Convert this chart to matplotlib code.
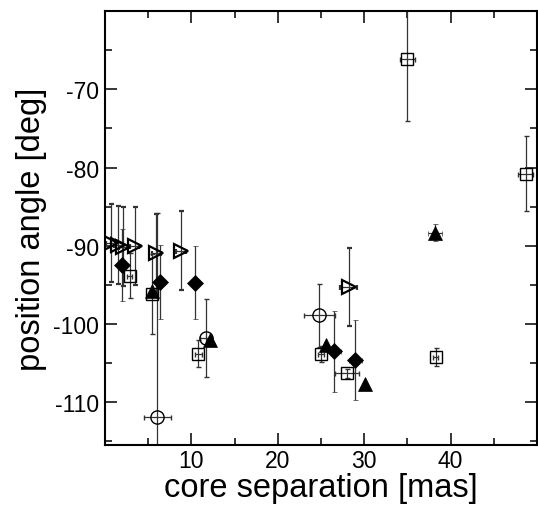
import matplotlib.pyplot as plt
from matplotlib.ticker import MultipleLocator

plt.rcParams['font.family'] = ['Liberation Sans', 'DejaVu Sans']
plt.rcParams['axes.unicode_minus'] = False

# open right-pointing triangles
tri_r_x = [0.66, 1.54, 2.1, 3.46, 5.97, 8.78, 28.2]
tri_r_y = [-89.6, -89.9, -90.1, -90.0, -90.9, -90.6, -95.3]
tri_r_xerr = [0.5, 0.5, 0.5, 0.5, 0.5, 0.6, 1.0]
tri_r_yerr = [5.0, 5.0, 5.0, 5.0, 5.0, 5.0, 5.0]

# filled diamonds
dia_x = [2.0, 6.35, 10.4, 26.5, 29.0]
dia_y = [-92.4, -94.6, -94.7, -103.5, -104.6]
dia_xerr = [0.4, 0.4, 0.4, 0.8, 0.8]
dia_yerr = [4.6, 4.7, 4.7, 5.2, 5.1]

# filled up triangles
tri_u_x = [5.4, 12.2, 25.6, 30.1, 38.2]
tri_u_y = [-95.8, -102.0, -102.7, -107.7, -88.3]
tri_u_xerr = [0, 0, 0, 0, 0.8]
tri_u_yerr = [0, 0, 0, 0, 1.1]

# open squares
sq_x = [2.85, 5.5, 10.8, 25.0, 28.0, 38.3, 35.0, 48.7]
sq_y = [-93.8, -96.2, -103.8, -103.8, -106.3, -104.2, -66.1, -80.8]
sq_xerr = [0.3, 0.3, 0.4, 0.3, 1.4, 0.3, 0.9, 0.9]
sq_yerr = [2.9, 5.1, 1.7, 1.0, 0.6, 1.2, 7.9, 4.8]

# open circles
circ_x = [6.08, 11.74, 24.8]
circ_y = [-111.85, -101.8, -98.9]
circ_xerr = [1.6, 0.7, 1.8]
circ_yerr = [26.0, 5.0, 4.0]

fig = plt.figure(figsize=(5.38, 5.06), dpi=100)
ax = fig.add_axes([0.195, 0.118, 0.803, 0.858])

err_kw = dict(ls='none', ecolor='#333333', elinewidth=0.9, capsize=1.8, capthick=0.9)

ax.errorbar(circ_x, circ_y, xerr=circ_xerr, yerr=circ_yerr, fmt='o', ms=9.5,
            mfc='none', mec='black', mew=1.0, **err_kw)
ax.errorbar(sq_x, sq_y, xerr=sq_xerr, yerr=sq_yerr, fmt='s', ms=8.5,
            mfc='none', mec='black', mew=1.0, **err_kw)
ax.errorbar(tri_r_x, tri_r_y, xerr=tri_r_xerr, yerr=tri_r_yerr, fmt='>', ms=9.5,
            mfc='none', mec='black', mew=1.6, **err_kw)
ax.errorbar(dia_x, dia_y, xerr=dia_xerr, yerr=dia_yerr, fmt='D', ms=8.5,
            mfc='black', mec='black', mew=0.5, **err_kw)
ax.errorbar(tri_u_x, tri_u_y, xerr=tri_u_xerr, yerr=tri_u_yerr, fmt='^', ms=9.5,
            mfc='black', mec='black', mew=0.5, **err_kw)

ax.set_xlim(0, 50)
ax.set_ylim(-115.5, -60)
ax.set_xticks([10, 20, 30, 40])
ax.set_yticks([-110, -100, -90, -80, -70])
ax.xaxis.set_minor_locator(MultipleLocator(5))
ax.yaxis.set_minor_locator(MultipleLocator(5))

ax.tick_params(which='both', direction='in', top=True, right=True, labelsize=16.5)
ax.tick_params(axis='x', pad=2.5)
ax.tick_params(axis='y', pad=4)
ax.tick_params(which='major', length=8.5, width=1.1)
ax.tick_params(which='minor', length=5, width=1.1)
for s in ax.spines.values():
    s.set_linewidth(1.5)

ax.set_xlabel('core separation [mas]', fontsize=23.5, labelpad=0)
ax.set_ylabel('position angle [deg]', fontsize=23.5, labelpad=5)

fig.savefig('out.png', dpi=100)
